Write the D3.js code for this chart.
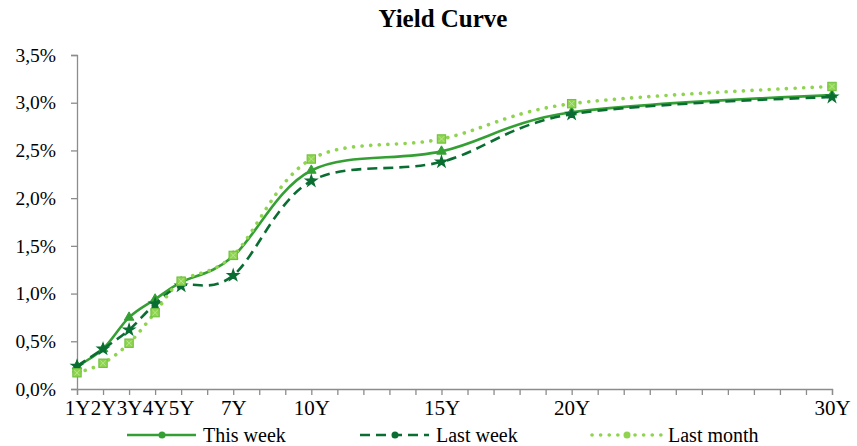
<!DOCTYPE html>
<html><head><meta charset="utf-8">
<script src="https://cdn.jsdelivr.net/npm/d3@7"></script>
<style>body{margin:0;background:#fff}svg{display:block}</style>
</head><body>
<svg id="c" width="857" height="446"></svg>
<script>
const maturities = [1, 2, 3, 4, 5, 7, 10, 15, 20, 30];
const tickLabels = ["1Y","2Y","3Y","4Y","5Y","7Y","10Y","15Y","20Y","30Y"];
const thisWeek  = [0.0024, 0.0042, 0.0075, 0.0094, 0.0112, 0.0139, 0.0229, 0.0249, 0.0290, 0.0308];
const lastWeek  = [0.0024, 0.0042, 0.0062, 0.0089, 0.0108, 0.0119, 0.0218, 0.0238, 0.0288, 0.0306];
const lastMonth = [0.0017, 0.0027, 0.0048, 0.0080, 0.0113, 0.0140, 0.0241, 0.0262, 0.0299, 0.0317];
const seriesNames = ["This week", "Last week", "Last month"];

const svg = d3.select("#c");
const x = d3.scaleLinear().domain([1, 30]).range([77, 832]);
const y = d3.scaleLinear().domain([0, 0.035]).range([389, 55]);
const loc = d3.formatLocale({decimal: ",", thousands: ".", grouping: [3], currency: ["", ""]});
const fmt = loc.format(".1%");
const font = "Liberation Serif, Times New Roman, serif";
const axisColor = "#8c8c8c";

svg.append("text").attr("x", 443).attr("y", 27).attr("text-anchor", "middle")
  .attr("font-family", font).attr("font-weight", "bold").attr("font-size", 25).text("Yield Curve");

// y axis
const yAxis = svg.append("g").attr("transform", "translate(77,0)")
  .call(d3.axisLeft(y).tickValues(d3.range(0, 0.0351, 0.005)).tickFormat(fmt).tickSize(6).tickPadding(15));
yAxis.select(".domain").attr("stroke", axisColor).attr("stroke-width", 1.3);
yAxis.selectAll(".tick line").attr("stroke", axisColor).attr("stroke-width", 1.3);
yAxis.selectAll("text").attr("font-family", font).attr("font-size", 19.5).attr("fill", "#000");

// x axis
const xAxis = svg.append("g").attr("transform", "translate(0,389)")
  .call(d3.axisBottom(x).tickValues(d3.range(1, 31)).tickSize(6).tickPadding(5)
    .tickFormat(d => { const i = maturities.indexOf(d); return i >= 0 ? tickLabels[i] : ""; }));
xAxis.select(".domain").attr("stroke", axisColor).attr("stroke-width", 1.3);
xAxis.selectAll(".tick line").attr("stroke", axisColor).attr("stroke-width", 1.3);
xAxis.selectAll("text").attr("font-family", font).attr("font-size", 21).attr("fill", "#000");

const colors = ["#34a034", "#0a6e32", "#8fd44f"];
const dashes = [null, "10 6", "0.1 8.5"];
const widths = [2.6, 2.6, 3.6];
const data = [thisWeek, lastWeek, lastMonth];
const line = d3.line().x((d, i) => x(maturities[i])).y(d => y(d)).curve(d3.curveCatmullRom.alpha(0));

function marker(g, k, cx, cy) {
  if (k === 0) {
    g.append("path").attr("d", d3.symbol(d3.symbolTriangle, 40)()).attr("transform", `translate(${cx},${cy})`)
      .attr("fill", colors[0]).attr("stroke", colors[0]).attr("stroke-width", 1);
  } else if (k === 1) {
    g.append("path").attr("d", d3.symbol(d3.symbolStar, 34)()).attr("transform", `translate(${cx},${cy})`)
      .attr("fill", colors[1]).attr("stroke", colors[1]).attr("stroke-width", 1.5);
  } else {
    const h = 4.2;
    g.append("rect").attr("x", cx - h).attr("y", cy - h).attr("width", 2 * h).attr("height", 2 * h)
      .attr("fill", colors[2]).attr("stroke", "#6cc03a").attr("stroke-width", 1);
    g.append("path").attr("d", `M${cx-h+1.5},${cy-h+1.5}L${cx+h-1.5},${cy+h-1.5}M${cx+h-1.5},${cy-h+1.5}L${cx-h+1.5},${cy+h-1.5}`)
      .attr("stroke", "#b8e890").attr("stroke-width", 1);
  }
}

data.forEach((vals, k) => {
  const g = svg.append("g");
  g.append("path").attr("d", line(vals)).attr("fill", "none").attr("stroke", colors[k])
    .attr("stroke-width", widths[k]).attr("stroke-dasharray", dashes[k])
    .attr("stroke-linecap", k === 2 ? "round" : "butt");
  vals.forEach((v, i) => marker(g, k, x(maturities[i]), y(v)));
});

// legend
const legX = [127, 360, 592];
const legY = 435;
seriesNames.forEach((n, k) => {
  const g = svg.append("g");
  g.append("line").attr("x1", legX[k]).attr("x2", legX[k] + 69).attr("y1", legY).attr("y2", legY)
    .attr("stroke", colors[k]).attr("stroke-width", widths[k]).attr("stroke-dasharray", dashes[k])
    .attr("stroke-linecap", k === 2 ? "round" : "butt");
  g.append("circle").attr("cx", legX[k] + 35).attr("cy", legY).attr("r", 3.5).attr("fill", colors[k]);
  g.append("text").attr("x", legX[k] + 76).attr("y", legY).attr("dy", "0.33em").attr("font-family", font).attr("font-size", 20)
    .text(n);
});
</script>
</body></html>
